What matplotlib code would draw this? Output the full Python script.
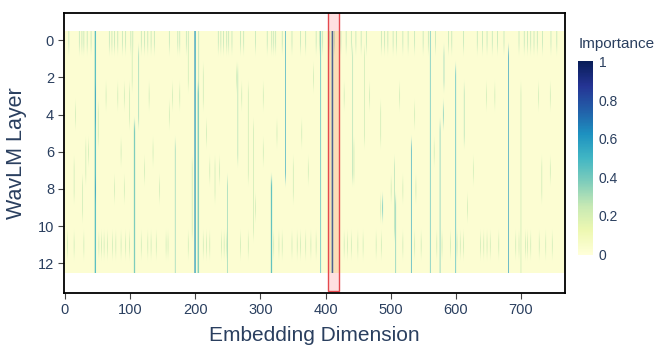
import numpy as np
import matplotlib
matplotlib.use("Agg")
import matplotlib.pyplot as plt
from matplotlib.patches import Rectangle

plt.rcParams['font.family'] = ['Liberation Sans', 'DejaVu Sans']

# -----------------------------
# DATA
# -----------------------------
N_LAYERS = 13
N_DIMS = 768
BASE_VALUE = 0.02

# prominent vertical lines: column, first layer, last layer, importance
line_cols = [47, 48, 48, 48, 107, 108, 114, 170, 200, 201, 205, 206, 250, 266,
             317, 318, 339, 393, 410, 411, 412, 442, 488, 506, 508, 532, 561,
             576, 582, 581, 600, 613, 681, 700]
line_from = [0, 0, 3, 8, 5, 5, 1, 6, 0, 0, 3, 0, 8, 2,
             8, 8, 0, 0, 0, 0, 0, 1, 9, 7, 9, 6, 0,
             5, 1, 4, 2, 3, 1, 3]
line_to = [12, 12, 4, 8, 12, 12, 4, 12, 12, 12, 12, 12, 12, 6,
           12, 12, 7, 12, 12, 12, 12, 7, 9, 10, 12, 12, 12,
           12, 2, 4, 12, 5, 12, 12]
line_vals = [0.4, 0.5, 0.6, 0.6, 0.3, 0.45, 0.35, 0.35, 0.65, 0.5, 0.5, 0.3, 0.35, 0.3,
             0.35, 0.5, 0.55, 0.5, 0.45, 0.85, 0.4, 0.3, 0.45, 0.3, 0.4, 0.55, 0.45,
             0.4, 0.35, 0.4, 0.5, 0.3, 0.6, 0.25]

# short faint segments in the middle layers
seg_cols = [17, 15, 28, 33, 37, 52, 64, 77, 82, 87, 92, 92, 100, 104, 123,
            130, 136, 146, 161, 166, 177, 190, 196, 213, 218, 223, 231, 238,
            264, 272, 282, 290, 305, 305, 326, 351, 364, 374, 382, 429, 444,
            460, 468, 485, 485, 501, 514, 519, 537, 539, 567, 618, 647, 660,
            727, 732, 745, 745, 293, 627]
seg_from = [4, 7, 8, 6, 6, 4, 3, 8, 3, 6, 3, 8, 3, 1, 7,
            3, 6, 8, 4, 3, 3, 1, 7, 2, 5, 7, 7, 7,
            2, 3, 3, 5, 3, 6, 5, 7, 5, 7, 2, 3, 6,
            1, 3, 4, 9, 8, 3, 8, 4, 8, 6, 9, 3, 3,
            3, 7, 3, 7, 9, 7]
seg_to = [4, 8, 9, 7, 6, 5, 3, 8, 3, 6, 3, 8, 4, 2, 7,
          3, 6, 8, 4, 3, 3, 2, 10, 3, 5, 7, 8, 7,
          2, 3, 7, 10, 3, 6, 5, 8, 5, 7, 2, 3, 7,
          5, 3, 5, 9, 8, 3, 8, 4, 8, 6, 9, 3, 3,
          3, 8, 3, 7, 9, 7]
SEG_VALUE = 0.25

# faint ticks in layer 0
row0_cols = [7, 23, 27, 30, 35, 41, 69, 73, 77, 82, 89, 94, 102, 105, 118, 123,
             128, 133, 138, 161, 174, 177, 187, 190, 236, 240, 244, 249, 252,
             257, 270, 275, 293, 311, 318, 321, 324, 334, 349, 362, 370, 386,
             391, 396, 406, 414, 424, 432, 440, 447, 455, 463, 486, 491, 496,
             504, 509, 519, 527, 537, 550, 558, 569, 589, 594, 612, 633, 641,
             648, 656, 664, 674, 697, 705, 710, 715, 720, 725, 733, 746, 755]
ROW0_VALUE = 0.28

# faint ticks in layer 11
row11_cols = [5, 15, 30, 53, 57, 61, 66, 74, 79, 87, 94, 100, 118, 128, 133,
              141, 156, 159, 190, 213, 218, 223, 241, 245, 249, 270, 282, 321,
              329, 334, 349, 357, 362, 370, 378, 386, 429, 434, 440, 450, 458,
              478, 486, 519, 537, 547, 571, 579, 592, 602, 607, 612, 638, 643,
              648, 653, 666, 692, 697, 707, 710, 715, 728, 738, 748]
ROW11_VALUE = 0.25

# highlighted band
HL_START = 404
HL_END = 420.5

# -----------------------------
# BUILD MATRIX
# -----------------------------
z = np.full((N_LAYERS, N_DIMS), BASE_VALUE)
for c in row0_cols:
    z[0, c] = max(z[0, c], ROW0_VALUE)
for c in row11_cols:
    z[11, c] = max(z[11, c], ROW11_VALUE)
for c, a, b in zip(seg_cols, seg_from, seg_to):
    z[a:b + 1, c] = np.maximum(z[a:b + 1, c], SEG_VALUE)
for c, a, b, v in zip(line_cols, line_from, line_to, line_vals):
    z[a:b + 1, c] = np.maximum(z[a:b + 1, c], v)

# -----------------------------
# PLOT
# -----------------------------
txt = '#2a3f5f'
fig = plt.figure(figsize=(6.62, 3.45), dpi=100)
ax = fig.add_axes([0.0974, 0.1507, 0.7561, 0.8107])

im = ax.imshow(z, cmap='YlGnBu', vmin=0, vmax=1, aspect='auto',
               extent=(-0.5, N_DIMS - 0.5, N_LAYERS - 0.5, -0.5),
               interpolation='antialiased', interpolation_stage='rgba')
ax.add_patch(Rectangle((HL_START, -1.5), HL_END - HL_START, 15.0,
                       facecolor=(1, 0, 0, 0.12), edgecolor='#e5484d', lw=1.0))

ax.set_xlim(-0.5, N_DIMS - 0.5)
ax.set_ylim(13.6, -1.45)
ax.set_xticks(range(0, 701, 100))
ax.set_yticks(range(0, 13, 2))
ax.tick_params(colors='#444444', labelcolor=txt, labelsize=10.5, length=4, width=0.8)
for s in ax.spines.values():
    s.set_color('black')
    s.set_linewidth(1.3)
ax.set_xlabel("Embedding Dimension", fontsize=15, color=txt, labelpad=6)
ax.set_ylabel("WavLM Layer", fontsize=15.5, color=txt, labelpad=8)

cax = fig.add_axes([0.873, 0.262, 0.0227, 0.56])
cb = fig.colorbar(im, cax=cax)
cb.outline.set_visible(False)
cb.set_ticks([0, 0.2, 0.4, 0.6, 0.8, 1])
cb.set_ticklabels(['0', '0.2', '0.4', '0.6', '0.8', '1'])
cax.tick_params(length=0, labelsize=10, labelcolor=txt, pad=4)
fig.text(0.874, 0.873, "Importance", fontsize=11, color=txt, ha='left', va='center')

fig.savefig("out.png", dpi=100)
